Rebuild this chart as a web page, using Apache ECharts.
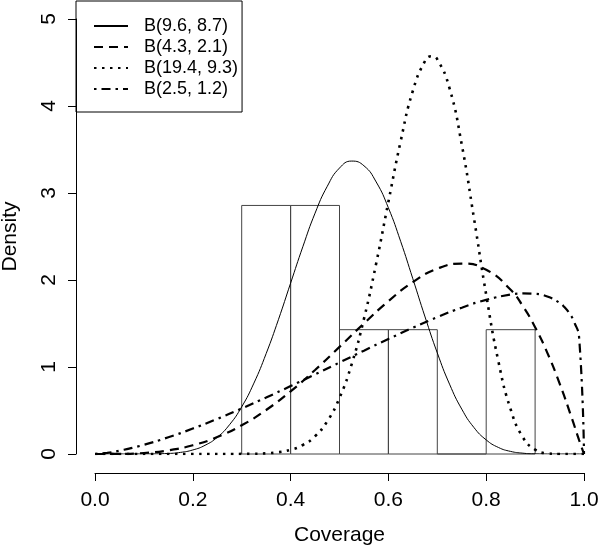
<!DOCTYPE html>
<html>
<head>
<meta charset="utf-8">
<script src="https://cdn.jsdelivr.net/npm/echarts@6/dist/echarts.min.js"></script>
<style>
html,body{margin:0;padding:0;background:#fff;}
#chart{width:600px;height:549px;}
</style>
</head>
<body>
<div id="chart"></div>
<script>
// Histogram bins (density scale)
const binStart = [0.3, 0.4, 0.5, 0.6, 0.7, 0.8];
const binEnd   = [0.4, 0.5, 0.6, 0.7, 0.8, 0.9];
const binDensity = [2.857, 2.857, 1.429, 1.429, 0, 1.429];

// Curve B(9.6, 8.7)
const curve1Name = 'B(9.6, 8.7)';
const curve1X = [0, 0.05, 0.1, 0.15, 0.175, 0.2, 0.225, 0.25, 0.275, 0.3, 0.325, 0.35, 0.375, 0.4, 0.425, 0.45, 0.475, 0.5, 0.525, 0.55, 0.575, 0.6, 0.625, 0.65, 0.675, 0.7, 0.725, 0.75, 0.775, 0.8, 0.825, 0.85, 0.875, 0.9, 0.95, 1];
const curve1Y = [0, 0, 0.0003, 0.0062, 0.0186, 0.0464, 0.0999, 0.192, 0.336, 0.542, 0.815, 1.154, 1.543, 1.964, 2.382, 2.768, 3.077, 3.287, 3.367, 3.313, 3.127, 2.829, 2.445, 2.014, 1.575, 1.162, 0.803, 0.516, 0.304, 0.162, 0.0752, 0.0297, 0.0094, 0.0021, 0, 0];

// Curve B(4.3, 2.1)
const curve2Name = 'B(4.3, 2.1)';
const curve2X = [0, 0.05, 0.1, 0.15, 0.2, 0.25, 0.3, 0.35, 0.4, 0.45, 0.5, 0.55, 0.6, 0.65, 0.7, 0.75, 0.8, 0.85, 0.875, 0.9, 0.925, 0.95, 0.975, 0.99, 1];
const curve2Y = [0, 0.00125, 0.0116, 0.0415, 0.1003, 0.195, 0.330, 0.506, 0.720, 0.966, 1.231, 1.501, 1.757, 1.975, 2.130, 2.189, 2.118, 1.887, 1.699, 1.458, 1.163, 0.813, 0.413, 0.159, 0];

// Curve B(19.4, 9.3)
const curve3Name = 'B(19.4, 9.3)';
const curve3X = [0, 0.2, 0.3, 0.325, 0.35, 0.375, 0.4, 0.425, 0.45, 0.475, 0.5, 0.525, 0.55, 0.575, 0.6, 0.625, 0.65, 0.675, 0.6875, 0.7, 0.725, 0.75, 0.775, 0.8, 0.825, 0.85, 0.875, 0.9, 0.925, 0.95, 0.975, 1];
const curve3Y = [0, 0, 0.0009, 0.0028, 0.008, 0.0207, 0.0482, 0.1034, 0.2045, 0.376, 0.645, 1.034, 1.553, 2.19, 2.898, 3.593, 4.175, 4.518, 4.572, 4.536, 4.204, 3.557, 2.71, 1.829, 1.063, 0.513, 0.192, 0.0506, 0.0079, 0.0004, 0, 0];

// Curve B(2.5, 1.2)
const curve4Name = 'B(2.5, 1.2)';
const curve4X = [0, 0.025, 0.05, 0.1, 0.15, 0.2, 0.25, 0.3, 0.35, 0.4, 0.45, 0.5, 0.55, 0.6, 0.65, 0.7, 0.75, 0.8, 0.85, 0.875, 0.9, 0.925, 0.95, 0.96, 0.97, 0.98, 0.99, 1];
const curve4Y = [0, 0.0134, 0.0378, 0.1058, 0.1922, 0.2923, 0.4032, 0.5228, 0.6492, 0.7805, 0.9152, 1.0517, 1.1881, 1.3222, 1.4513, 1.5734, 1.682, 1.7721, 1.8326, 1.8452, 1.8408, 1.8108, 1.7379, 1.6884, 1.6189, 1.516, 1.34, 0];

// Axis ticks
const xTicks = [0, 0.2, 0.4, 0.6, 0.8, 1.0];
const yTicks = [0, 1, 2, 3, 4, 5];

const FONT = '"Liberation Sans", Arial, Helvetica, sans-serif';

function pairs(xs, ys) { return xs.map((x, i) => [x, ys[i]]); }

const histData = binStart.map((s, i) => [s, binEnd[i], binDensity[i]]);

function curveSeries(name, xs, ys, width, dash) {
  return {
    name: name,
    type: 'line',
    data: pairs(xs, ys),
    showSymbol: false,
    symbol: 'none',
    smooth: 0.5,
    clip: true,
    z: 5,
    lineStyle: { color: '#000', width: width, type: dash, cap: 'butt' },
    itemStyle: { color: '#000' },
    emphasis: { disabled: true },
    animation: false
  };
}

const chart = echarts.init(document.getElementById('chart'), null, { renderer: 'canvas' });

const option = {
  animation: false,
  backgroundColor: '#fff',
  textStyle: { fontFamily: FONT },
  grid: { left: 95, right: 16, top: 19, bottom: 95, containLabel: false, outerBoundsMode: 'none' },
  legend: {
    orient: 'vertical',
    left: 76,
    top: 1,
    data: [curve1Name, curve2Name, curve3Name, curve4Name],
    borderColor: '#000',
    borderWidth: 1,
    borderRadius: 0,
    padding: [15, 4, 13, 17],
    itemGap: 1,
    itemWidth: 34,
    itemHeight: 20,
    selectedMode: false,
    itemStyle: { color: 'rgba(0,0,0,0)', opacity: 0, borderWidth: 0 },
    textStyle: { fontFamily: FONT, fontSize: 18, lineHeight: 20, color: '#000', padding: [0, 0, 0, 11] }
  },
  xAxis: {
    type: 'value',
    min: 0,
    max: 1,
    interval: 0.2,
    offset: 19,
    name: 'Coverage',
    nameLocation: 'middle',
    nameGap: 52,
    nameTextStyle: { fontFamily: FONT, fontSize: 21, color: '#000' },
    axisLine: { show: true, onZero: false, lineStyle: { color: '#000', width: 1 } },
    axisTick: { show: true, inside: false, length: 8, lineStyle: { color: '#000', width: 1 } },
    axisLabel: {
      show: true, fontFamily: FONT, fontSize: 21, color: '#000', margin: 17,
      formatter: v => xTicks.indexOf(+v.toFixed(1)) >= 0 ? v.toFixed(1) : ''
    },
    splitLine: { show: false }
  },
  yAxis: {
    type: 'value',
    min: 0,
    max: 5,
    interval: 1,
    offset: 19,
    name: 'Density',
    nameLocation: 'middle',
    nameGap: 55,
    nameRotate: 90,
    nameTextStyle: { fontFamily: FONT, fontSize: 21, color: '#000' },
    axisLine: { show: true, onZero: false, lineStyle: { color: '#000', width: 1 } },
    axisTick: { show: true, inside: false, length: 8, lineStyle: { color: '#000', width: 1 } },
    axisLabel: {
      show: true, fontFamily: FONT, fontSize: 21, color: '#000', margin: 16, rotate: 90,
      formatter: v => yTicks.indexOf(v) >= 0 ? String(v) : ''
    },
    splitLine: { show: false }
  },
  series: [
    {
      name: 'hist',
      type: 'custom',
      data: histData,
      encode: { x: [0, 1], y: 2 },
      z: 2,
      animation: false,
      renderItem: function (params, api) {
        const p0 = api.coord([api.value(0), 0]);
        const p1 = api.coord([api.value(1), api.value(2)]);
        return {
          type: 'rect',
          shape: { x: p0[0], y: p1[1], width: p1[0] - p0[0], height: p0[1] - p1[1] },
          style: { fill: 'none', stroke: '#444', lineWidth: 1 }
        };
      }
    },
    curveSeries(curve1Name, curve1X, curve1Y, 1, 'solid'),
    curveSeries(curve2Name, curve2X, curve2Y, 2.2, [9, 6]),
    curveSeries(curve3Name, curve3X, curve3Y, 2.6, [2.5, 5.5]),
    curveSeries(curve4Name, curve4X, curve4Y, 2.2, [2.5, 5, 9, 5])
  ]
};

chart.setOption(option);
</script>
</body>
</html>
